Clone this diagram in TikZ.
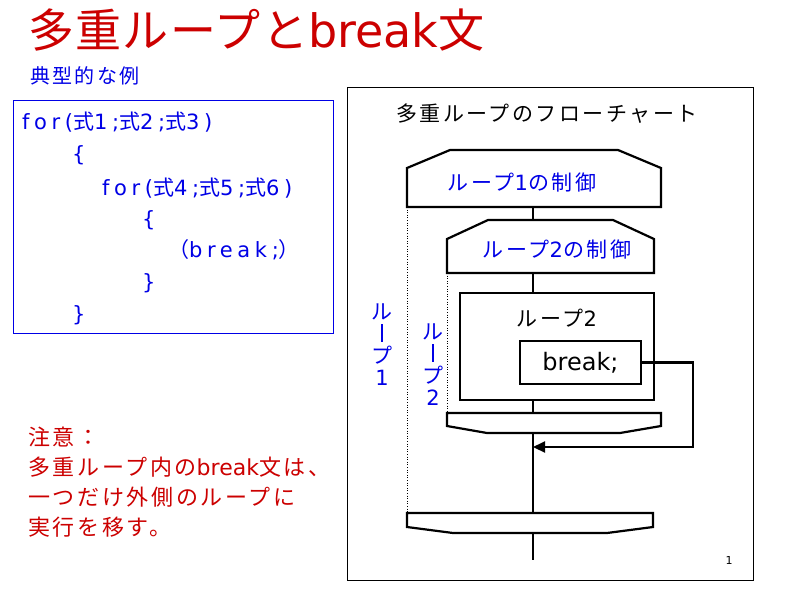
\documentclass[tikz,border=0pt]{standalone}
\usepackage{fontspec}
\usepackage{graphicx}
\setmainfont{DejaVu Sans}
\newfontfamily\jp[LetterSpace=12]{Noto Sans CJK JP}
\newfontfamily\jpc[LetterSpace=22]{Noto Sans CJK JP}
\newfontfamily\dvc[LetterSpace=22]{DejaVu Sans}
\newcommand{\J}[1]{{\jp #1}}
\newcommand{\Jc}[1]{{\jpc #1}}
\usetikzlibrary{arrows.meta}
\definecolor{myred}{RGB}{204,0,0}
\definecolor{myblue}{RGB}{0,0,230}
\begin{document}
\begin{tikzpicture}[x=1pt,y=-1pt,
  fc/.style={line width=2.2pt,line join=miter},
  lbl/.style={inner sep=0pt,font=\fontsize{21}{22}\selectfont},
  code/.style={inner sep=0pt,anchor=west,text=myblue,font=\dvc\fontsize{21}{24}\selectfont},
  note/.style={inner sep=0pt,anchor=west,text=myred,font=\fontsize{22}{24}\selectfont}]
\useasboundingbox (0,0) rectangle (800,600);
\fill[white] (0,0) rectangle (800,600);
% left side
\node[inner sep=0pt,anchor=west,text=myred,font=\fontsize{46}{46}\selectfont] (title) at (28,30) {{\jp\addfontfeatures{LetterSpace=3}多重ループと}break{\jp 文}};
\node[inner sep=0pt,anchor=west,text=myblue,font=\fontsize{20}{21}\selectfont] (sub) at (30,76) {\J{典型的な例}};
\draw[myblue,line width=0.8pt] (13,100) rectangle (333,333);
\node[code] (c1) at (22,122) {for(\Jc{式}1;\Jc{式}2;\Jc{式}3)};
\node[code] (c2) at (72,155) {\{};
\node[code] (c3) at (102,188) {for(\Jc{式}4;\Jc{式}5;\Jc{式}6)};
\node[code] (c4) at (142,220) {\{};
\node[code] (c5) at (168,250) {\Jc{（}break;\Jc{）}};
\node[code] (c6) at (142,283) {\}};
\node[code] (c7) at (72,315) {\}};
\node[note] (n1) at (28,437) {\J{注意：}};
\node[note] (n2) at (28,467) {\J{多重ループ内の}break\J{文は、}};
\node[note] (n3) at (28,497) {\J{一つだけ外側のループに}};
\node[note] (n4) at (28,527) {\J{実行を移す。}};
% frame
\draw[line width=0.8pt] (347,87) rectangle (753,580);
\node[lbl] (ft) at (547,114) {\J{多重ループのフローチャート}};
\node[inner sep=0pt,font=\fontsize{11}{12}\selectfont] (pg) at (729,560) {1};
% loop1 start
\draw[fc] (450,150) -- (618,150) -- (661,168) -- (661,207) -- (407,207) -- (407,168) -- cycle;
\node[lbl,text=myblue] (l1) at (522,183) {\J{ループ}1\J{の制御}};
% loop2 start
\draw[fc] (488,220) -- (613,220) -- (654,239) -- (654,273) -- (447,273) -- (447,239) -- cycle;
\node[lbl,text=myblue] (l2) at (557,250) {\J{ループ}2\J{の制御}};
% loop2 body
\draw[fc] (460,293) rectangle (654,400);
\node[lbl] (b2) at (557,318) {\J{ループ}2};
\node[fc,draw,minimum width=121pt,minimum height=43pt,inner sep=0pt,font=\fontsize{24}{24}\selectfont] (brk) at (580.5,362.5) {break;};
% loop2 end
\draw[fc] (447,413) -- (661,413) -- (661,426) -- (620,433) -- (487,433) -- (447,426) -- cycle;
% loop1 end
\draw[fc] (407,513) -- (653,513) -- (653,527) -- (607,533) -- (453,533) -- (407,527) -- cycle;
% center line
\draw[fc] (533,207) -- (533,220);
\draw[fc] (533,273) -- (533,293);
\draw[fc] (533,400) -- (533,413);
\draw[fc] (533,433) -- (533,513);
\draw[fc] (533,533) -- (533,560);
\coordinate (tip) at (533,447);
\draw[fc,-{Triangle[length=12pt,width=11pt]}] (brk.east) -- (693,362.5) -- (693,447) -- (tip);
% dotted
\draw[dotted,line width=0.6pt] (407,207) -- (407,513);
\draw[dotted,line width=0.6pt] (447,273) -- (447,413);
% vertical labels
\node[inner sep=0pt,text=myblue,align=center,font=\fontsize{21}{22}\selectfont] (v1) at (382,345) {{\jp ル}\\\rule{1.6pt}{18pt}\\{\jp プ}\\1};
\node[inner sep=0pt,text=myblue,align=center,font=\fontsize{21}{22}\selectfont] (v2) at (433,365) {{\jp ル}\\\rule{1.6pt}{18pt}\\{\jp プ}\\2};
\end{tikzpicture}
\end{document}
